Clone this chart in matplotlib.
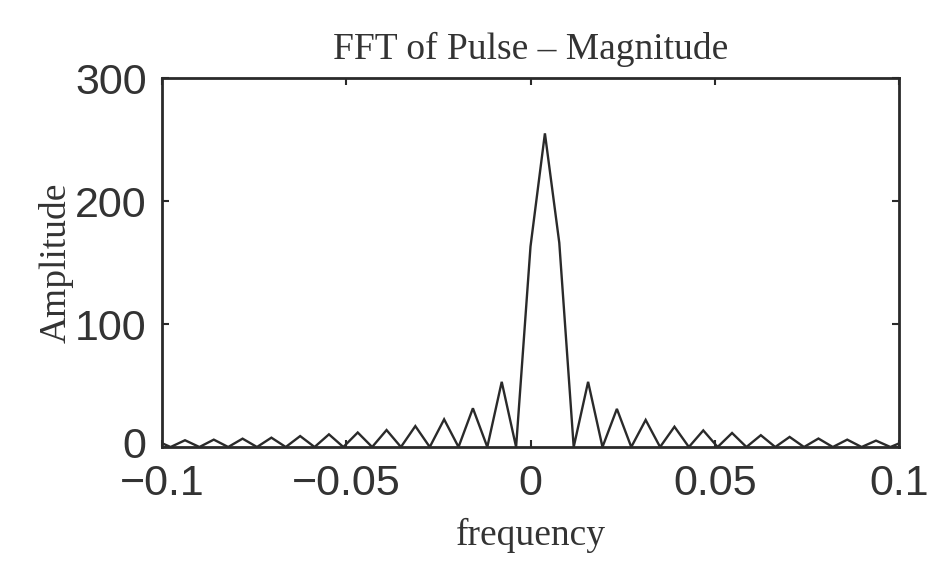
import matplotlib
matplotlib.use("Agg")
import matplotlib.pyplot as plt
import matplotlib.transforms as mtransforms

# Frequency bins (cycles/sample), spacing 1/256
freq = [-0.10547, -0.10156, -0.09766, -0.09375, -0.08984, -0.08594, -0.08203,
        -0.07813, -0.07422, -0.07031, -0.06641, -0.06250, -0.05859, -0.05469,
        -0.05078, -0.04688, -0.04297, -0.03906, -0.03516, -0.03125, -0.02734,
        -0.02344, -0.01953, -0.01563, -0.01172, -0.00781, -0.00391, 0.0,
        0.00391, 0.00781, 0.01172, 0.01563, 0.01953, 0.02344, 0.02734,
        0.03125, 0.03516, 0.03906, 0.04297, 0.04688, 0.05078, 0.05469,
        0.05859, 0.06250, 0.06641, 0.07031, 0.07422, 0.07813, 0.08203,
        0.08594, 0.08984, 0.09375, 0.09766, 0.10156, 0.10547]

amplitude = [0, 5.2, 0, 5.5, 0, 6.0, 0,
             6.8, 0, 7.6, 0, 8.9, 0, 10.3,
             0, 11.8, 0, 13.8, 0, 17.0, 0,
             22.5, 0, 31.5, 0, 53.0, 0, 163.0,
             255.0, 166.0, 0, 53.0, 0, 31.0, 0,
             22.0, 0, 16.5, 0, 13.5, 0, 11.4,
             0, 9.6, 0, 8.2, 0, 6.9, 0,
             6.0, 0, 5.2, 0, 4.9, 0]

xticks = [-0.1, -0.05, 0, 0.05, 0.1]
xticklabels = ["\u22120.1", "\u22120.05", "0", "0.05", "0.1"]
yticks = [0, 100, 200, 300]
yticklabels = ["0", "100", "200", "300"]

fig = plt.figure(figsize=(9.33, 5.62), dpi=100)
ax = fig.add_axes([0.1736, 0.2046, 0.79, 0.6566])

ink = "#2a2a2a"
ax.plot(freq, amplitude, color=ink, linewidth=1.7, solid_joinstyle="miter")
ax.set_xlim(-0.1, 0.1)
ax.set_ylim(0, 300)

ax.set_xticks(xticks)
ax.set_xticklabels(xticklabels, fontfamily="Liberation Sans", fontsize=31, color="#333333")
ax.set_yticks(yticks)
ax.set_yticklabels(yticklabels, fontfamily="Liberation Sans", fontsize=31, color="#333333")

ax.tick_params(direction="in", length=5, width=1.5, color=ink,
               top=True, right=True, pad=12)
ax.tick_params(axis="y", pad=11)
for s in ax.spines.values():
    s.set_linewidth(2.0)
    s.set_color(ink)

# nudge the bottom y label up slightly so it clears the x tick label
ylab0 = ax.get_yticklabels()[0]
ylab0.set_transform(ylab0.get_transform() +
                    mtransforms.ScaledTranslation(0, 3 / 72, fig.dpi_scale_trans))

ax.set_title("FFT of Pulse \u2013 Magnitude", fontfamily="Liberation Serif",
             fontsize=27, color="#333333", pad=14)
ax.set_xlabel("frequency", fontfamily="Liberation Serif", fontsize=27,
              color="#333333", labelpad=10)
ax.set_ylabel("Amplitude", fontfamily="Liberation Serif", fontsize=27,
              color="#333333", labelpad=1)

fig.savefig("out.png", dpi=100)
